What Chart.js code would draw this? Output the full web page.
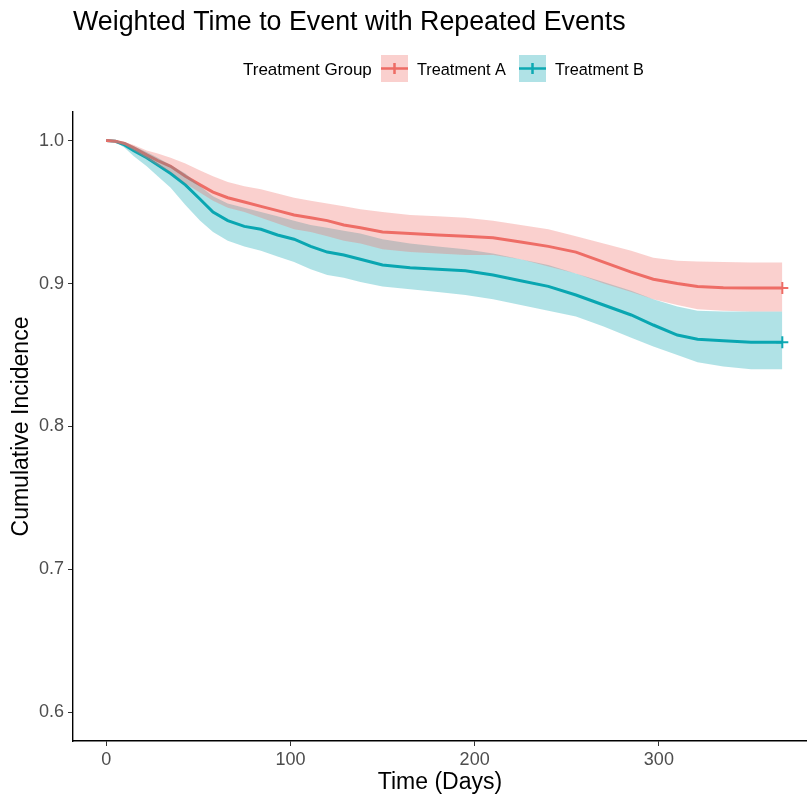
<!DOCTYPE html>
<html>
<head>
<meta charset="utf-8">
<script src="https://cdn.jsdelivr.net/npm/chart.js@4/dist/chart.umd.min.js"></script>
<style>
  body { margin: 0; background: #fff; overflow: hidden; }
  #wrap { width: 807px; height: 798px; overflow: hidden; }
</style>
</head>
<body>
<div id="wrap"><canvas id="kmChart" width="815" height="798"></canvas></div>
<script>
const chartTitle = "Weighted Time to Event with Repeated Events";
const legendTitle = "Treatment Group";
const groups = ["Treatment A", "Treatment B"];

const days = [0, 5, 10, 15, 22, 28, 35, 43, 51, 58, 66, 75, 84, 93, 102, 111, 120, 129, 138,
  150, 165, 180, 195, 210, 225, 240, 255, 270, 285, 297, 310, 321, 335, 350, 367];

const survA = [1.000, 0.9995, 0.998, 0.995, 0.990, 0.986, 0.982, 0.975, 0.969, 0.964, 0.960, 0.957,
  0.954, 0.951, 0.948, 0.946, 0.944, 0.941, 0.939, 0.936, 0.935, 0.934, 0.933, 0.932, 0.929, 0.926,
  0.922, 0.915, 0.908, 0.903, 0.900, 0.898, 0.897, 0.8968, 0.8968];
const upperA = [1.000, 1.000, 0.999, 0.997, 0.993, 0.991, 0.988, 0.984, 0.979, 0.975, 0.971, 0.968,
  0.966, 0.963, 0.960, 0.958, 0.956, 0.954, 0.952, 0.950, 0.948, 0.947, 0.946, 0.944, 0.941, 0.938,
  0.933, 0.928, 0.923, 0.918, 0.916, 0.9155, 0.915, 0.9148, 0.9148];
const lowerA = [1.000, 0.999, 0.997, 0.993, 0.9875, 0.983, 0.978, 0.970, 0.9635, 0.958, 0.953, 0.950,
  0.946, 0.942, 0.938, 0.936, 0.933, 0.930, 0.928, 0.924, 0.922, 0.921, 0.920, 0.920, 0.917, 0.912,
  0.907, 0.900, 0.894, 0.889, 0.885, 0.882, 0.881, 0.8805, 0.8805];

const survB = [1.000, 0.9995, 0.997, 0.993, 0.988, 0.983, 0.977, 0.969, 0.959, 0.950, 0.944, 0.940,
  0.938, 0.934, 0.931, 0.926, 0.922, 0.920, 0.917, 0.913, 0.911, 0.910, 0.909, 0.906, 0.902, 0.898,
  0.892, 0.885, 0.878, 0.871, 0.864, 0.861, 0.860, 0.859, 0.859];
const upperB = [1.000, 1.000, 0.999, 0.996, 0.992, 0.988, 0.983, 0.977, 0.968, 0.961, 0.956, 0.953,
  0.950, 0.947, 0.944, 0.941, 0.939, 0.937, 0.935, 0.931, 0.928, 0.926, 0.924, 0.921, 0.917, 0.913,
  0.907, 0.901, 0.895, 0.889, 0.884, 0.881, 0.8805, 0.8805, 0.8805];
const lowerB = [1.000, 0.999, 0.995, 0.989, 0.982, 0.975, 0.967, 0.955, 0.944, 0.936, 0.930, 0.926,
  0.923, 0.919, 0.915, 0.910, 0.906, 0.904, 0.901, 0.898, 0.896, 0.894, 0.892, 0.889, 0.885, 0.881,
  0.877, 0.870, 0.862, 0.856, 0.850, 0.845, 0.842, 0.840, 0.840];

const xTicks = [0, 100, 200, 300];
const yTicks = [0.6, 0.7, 0.8, 0.9, 1.0];

const redLine = "#EE6C65";
const blueLine = "#0EA9B3";
const redFill = "rgba(240, 112, 106, 0.33)";
const blueFill = "rgba(0, 160, 175, 0.31)";

const fontFam = "'Liberation Sans', Arial, sans-serif";

function pts(ys) {
  return days.map((d, i) => ({ x: d, y: ys[i] }));
}

function endCross(ctx) {
  return ctx.dataIndex === days.length - 1 ? 6 : 0;
}

// ggplot-like title + legend drawn on top
const ggHeader = {
  id: "ggHeader",
  afterDraw(chart) {
    const c = chart.ctx;
    c.save();
    c.fillStyle = "#000";
    c.textBaseline = "alphabetic";
    c.font = "26.8px " + fontFam;
    c.fillText(chartTitle, 73, 30);

    c.font = "17px " + fontFam;
    c.fillText(legendTitle, 243, 75);

    const keys = [
      { x: 381, fill: redFill, line: redLine, label: groups[0] },
      { x: 519, fill: blueFill, line: blueLine, label: groups[1] },
    ];
    c.font = "16.3px " + fontFam;
    keys.forEach((k) => {
      c.fillStyle = k.fill;
      c.fillRect(k.x, 55, 27, 27);
      c.strokeStyle = k.line;
      c.lineWidth = 2.5;
      c.beginPath();
      c.moveTo(k.x, 68.5);
      c.lineTo(k.x + 27, 68.5);
      c.moveTo(k.x + 13.5, 63);
      c.lineTo(k.x + 13.5, 74);
      c.stroke();
      c.fillStyle = "#000";
      c.fillText(k.label, k.x + 36, 75);
    });
    c.restore();
  },
};

const lineBase = {
  borderWidth: 3,
  tension: 0,
  fill: false,
  pointStyle: "cross",
  pointBorderWidth: 2,
  pointHoverRadius: 0,
};

new Chart(document.getElementById("kmChart"), {
  type: "line",
  data: {
    datasets: [
      { label: "A upper", data: pts(upperA), borderWidth: 0, pointRadius: 0, backgroundColor: redFill, fill: "+1" },
      { label: "A lower", data: pts(lowerA), borderWidth: 0, pointRadius: 0, fill: false },
      { label: "B upper", data: pts(upperB), borderWidth: 0, pointRadius: 0, backgroundColor: blueFill, fill: "+1" },
      { label: "B lower", data: pts(lowerB), borderWidth: 0, pointRadius: 0, fill: false },
      Object.assign({ label: groups[0], data: pts(survA), borderColor: redLine, pointBorderColor: redLine, pointRadius: endCross }, lineBase),
      Object.assign({ label: groups[1], data: pts(survB), borderColor: blueLine, pointBorderColor: blueLine, pointRadius: endCross }, lineBase),
    ],
  },
  options: {
    responsive: false,
    animation: false,
    layout: { padding: { top: 112, left: 0, right: 0, bottom: 0 } },
    plugins: {
      legend: { display: false },
      title: { display: false },
      tooltip: { enabled: false },
    },
    scales: {
      x: {
        type: "linear",
        min: -18,
        max: 380.4,
        afterBuildTicks: (s) => { s.ticks = xTicks.map((v) => ({ value: v })); },
        afterFit: (s) => { s.height = 57; },
        ticks: {
          color: "#4d4d4d",
          font: { family: fontFam, size: 18 },
          padding: 3,
          maxRotation: 0,
        },
        grid: { drawOnChartArea: false, drawTicks: true, tickLength: 5, color: "#333", lineWidth: 1 },
        border: { display: true, color: "#000", width: 1.4 },
        title: {
          display: true,
          text: "Time (Days)",
          color: "#000",
          font: { family: fontFam, size: 23 },
          padding: { top: 0, bottom: 2 },
        },
      },
      y: {
        type: "linear",
        min: 0.58,
        max: 1.02,
        afterBuildTicks: (s) => { s.ticks = yTicks.map((v) => ({ value: v })); },
        afterFit: (s) => { s.width = 73; },
        ticks: {
          color: "#4d4d4d",
          font: { family: fontFam, size: 18 },
          padding: 4,
          callback: (v) => v.toFixed(1),
        },
        grid: { drawOnChartArea: false, drawTicks: true, tickLength: 5, color: "#333", lineWidth: 1 },
        border: { display: true, color: "#000", width: 1.4 },
        title: {
          display: true,
          text: "Cumulative Incidence",
          color: "#000",
          font: { family: fontFam, size: 23 },
          padding: { top: 8, bottom: 0 },
        },
      },
    },
  },
  plugins: [ggHeader],
});
</script>
</body>
</html>
